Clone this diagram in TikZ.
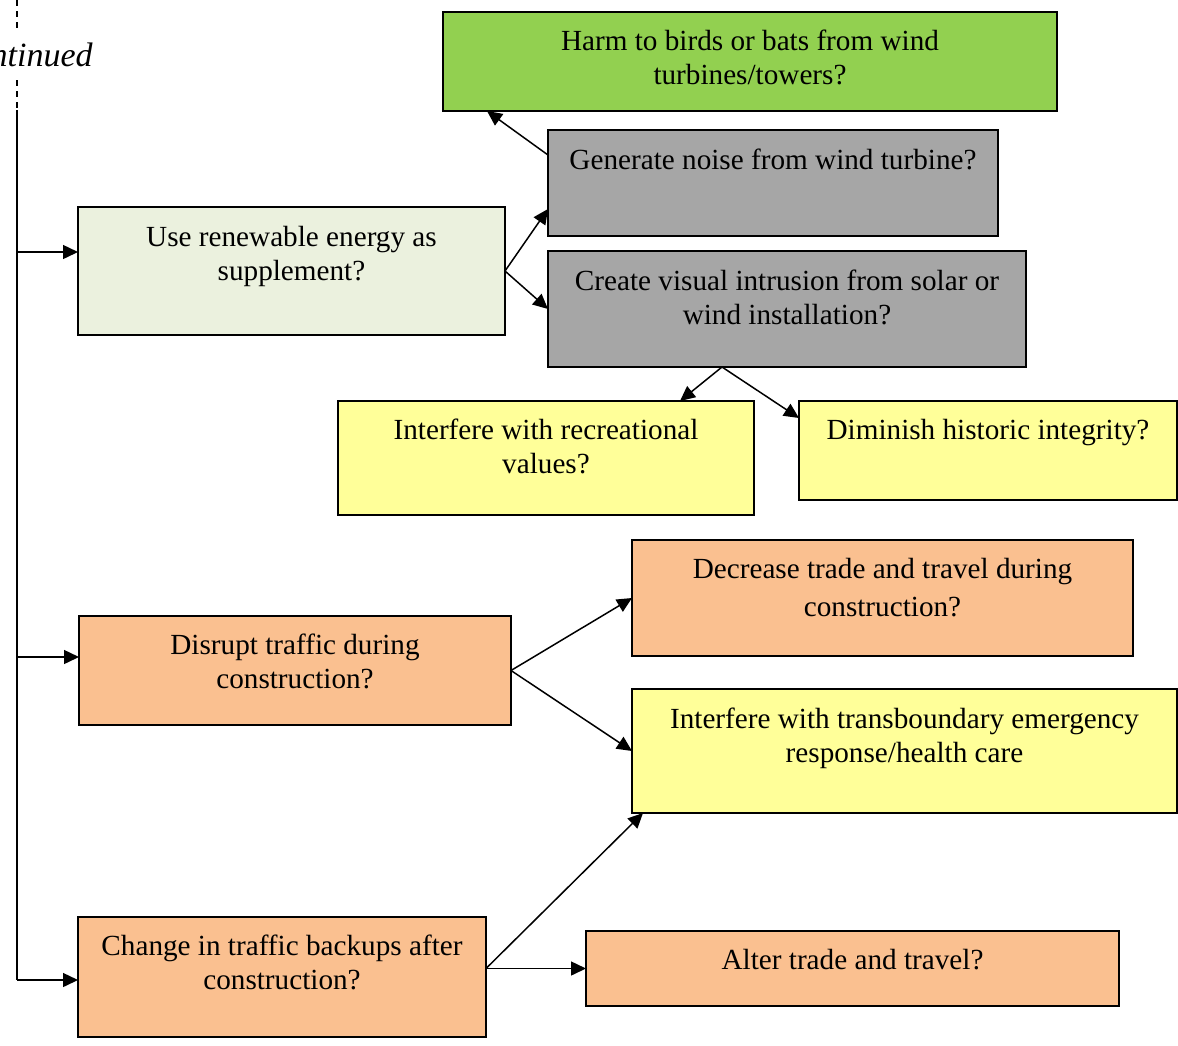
\documentclass[tikz,border=0pt]{standalone}
\usepackage{fontspec}
\setmainfont{Liberation Serif}
\usetikzlibrary{arrows.meta,fit,calc}
\definecolor{cgreen}{HTML}{92D050}
\definecolor{cgray}{HTML}{A6A6A6}
\definecolor{clight}{HTML}{EBF1DE}
\definecolor{cyellow}{HTML}{FFFF99}
\definecolor{corange}{HTML}{FAC090}
\tikzset{
  box/.style={draw=black, line width=0.8pt, inner sep=0pt, outer sep=0pt},
  lbl/.style={anchor=north, inner sep=0pt, align=center, font=\fontsize{14.6}{17}\selectfont},
  conn/.style={line width=0.75pt, -{Triangle[length=7.5pt,width=7pt]}},
  spine/.style={line width=0.75pt},
  dsh/.style={line width=0.75pt, dash pattern=on 3pt off 2.5pt}
}
\begin{document}
\begin{tikzpicture}[x=0.5pt,y=-0.5pt]
\clip (0,0) rectangle (1178,1045);
\fill[white] (0,0) rectangle (1178,1045);
% boxes
\node[box, fill=cgreen, fit={(443,12) (1057,111)}] (green) {};
\node[box, fill=cgray, fit={(548,130) (998,236)}] (g1) {};
\node[box, fill=cgray, fit={(548,251) (1026,367)}] (g2) {};
\node[box, fill=clight, fit={(78,207) (505,335)}] (lg) {};
\node[box, fill=cyellow, fit={(338,401) (754,515)}] (y1) {};
\node[box, fill=cyellow, fit={(799,401) (1177,500)}] (y2) {};
\node[box, fill=corange, fit={(632,540) (1133,656)}] (dec) {};
\node[box, fill=corange, fit={(79,616) (511,725)}] (dis) {};
\node[box, fill=cyellow, fit={(632,689) (1177,813)}] (tb) {};
\node[box, fill=corange, fit={(78,917) (486,1037)}] (ch) {};
\node[box, fill=corange, fit={(586,931) (1119,1006)}] (alt) {};
% labels
\node[lbl] (tgreen) at (750,30) {Harm to birds or bats from wind\\turbines/towers?};
\node[lbl] (tg1) at (773,149) {Generate noise from wind turbine?};
\node[lbl] (tg2) at (787,270) {Create visual intrusion from solar or\\wind installation?};
\node[lbl] (tlg) at (291.5,226) {Use renewable energy as\\supplement?};
\node[lbl] (ty1) at (546,419) {Interfere with recreational\\values?};
\node[lbl] (ty2) at (988,419) {Diminish historic integrity?};
\node[lbl, font=\fontsize{14.6}{19}\selectfont] (tdec) at (882.5,558) {Decrease trade and travel during\\construction?};
\node[lbl] (tdis) at (295,634) {Disrupt traffic during\\construction?};
\node[lbl] (ttb) at (904.5,708) {Interfere with transboundary emergency\\response/health care};
\node[lbl] (tch) at (282,935) {Change in traffic backups after\\construction?};
\node[lbl] (talt) at (852.5,949) {Alter trade and travel?};
% continued
\node[anchor=east, inner sep=0pt, font=\fontsize{17}{20}\selectfont\itshape] (cont) at (93,55) {Continued};
\coordinate (d1a) at (17,0);
\coordinate (d1b) at (17,28);
\coordinate (d2a) at (17,80);
\coordinate (d2b) at (17,110);
\coordinate (sb) at (17,980);
\coordinate (b1) at (17,252);
\coordinate (b2) at (17,657);
\draw[dsh] (d1a) -- (d1b);
\draw[dsh] (d2a) -- (d2b);
\draw[spine] (d2b) -- (sb);
\draw[conn] (b1) -- ($(lg.north west)+(0,45)$);
\draw[conn] (b2) -- ($(dis.north west)+(0,41)$);
\draw[conn] (sb) -- ($(ch.north west)+(0,63)$);
% connectors
\draw[conn] ($(g1.north west)+(0,25)$) -- ($(green.south west)+(44,0)$);
\draw[conn] (lg.east) -- ($(g1.south west)+(0,-27)$);
\draw[conn] (lg.east) -- (g2.west);
\coordinate (g2b) at ($(g2.south west)+(174,0)$);
\draw[conn] (g2b) -- ($(y1.north west)+(342,0)$);
\draw[conn] (g2b) -- ($(y2.north west)+(0,17)$);
\draw[conn] (dis.east) -- (dec.west);
\draw[conn] (dis.east) -- (tb.west);
\coordinate (chs) at ($(ch.east)+(0,-8.5)$);
\draw[conn] (chs) -- ($(tb.south west)+(11,0)$);
\draw[conn] (chs) -- (alt.west);
\end{tikzpicture}
\end{document}
